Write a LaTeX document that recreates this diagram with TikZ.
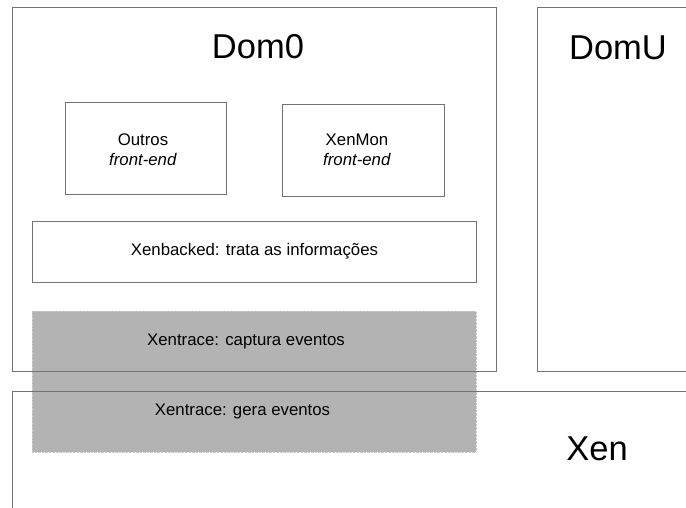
\documentclass[tikz,border=0pt]{standalone}
\usepackage{fontspec}
\setmainfont{Liberation Sans}
\usetikzlibrary{positioning}

\definecolor{framegray}{RGB}{115,115,115}
\definecolor{tracegray}{RGB}{179,179,179}

\tikzset{
  frame/.style={draw=framegray, line width=1pt},
  box/.style={draw=framegray, line width=1pt, fill=white, inner sep=0pt},
  title/.style={font=\fontsize{34.5}{40}\selectfont},
  label/.style={font=\fontsize{16.8}{20}\selectfont, align=center}
}

\begin{document}
\begin{tikzpicture}[x=1pt, y=-1pt]
\useasboundingbox (0,0) rectangle (686,508);

% camada de rastreamento
\node[fill=tracegray, draw=tracegray!70, densely dotted, minimum width=444pt, minimum height=141pt, inner sep=0pt] (trace) at (254,381.5) {};

% dominios
\draw[frame] (12,8) rectangle (496,371);
\draw[frame] (686,8) -- (537,8) -- (537,371) -- (686,371);
\draw[frame] (686,391) -- (12,391) -- (12,508);

\node[title] (dom0) at (258,47) {Dom0};
\node[title] (domu) at (618,48) {DomU};
\node[title] (xen) at (597,449) {Xen};

\node[box, minimum width=161pt, minimum height=92pt] (outros) at (145.5,149) {};
\node[label] (outroslbl) at (143,150) {Outros\\\textit{front-end}};
\node[box, minimum width=162pt, minimum height=92pt] (xenmon) at (363,151) {};
\node[label] (xenmonlbl) at (357,150) {XenMon\\\textit{front-end}};
\node[box, minimum width=444pt, minimum height=60pt] (backend) at (254,252) {};
\node[label] (backendlbl) at (254.5,251) {Xenbacked: trata as informações};

\node[label] (captura) at (246,341) {Xentrace: captura eventos};
\node[label] (gera) at (242.5,411) {Xentrace: gera eventos};
\end{tikzpicture}
\end{document}
